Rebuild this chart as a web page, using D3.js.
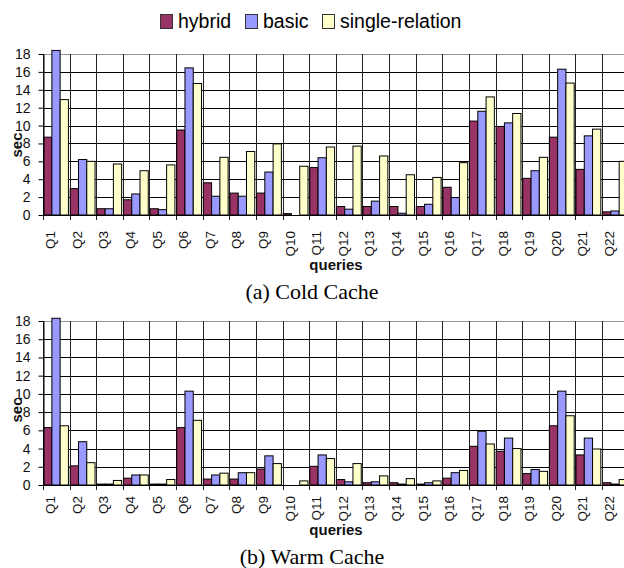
<!DOCTYPE html>
<html lang="en">
<head>
<meta charset="utf-8">
<script src="https://d3js.org/d3.v7.min.js"></script>
<style>
    body { margin: 0; background: #fff; }
    .tick-label { font-family: "Liberation Sans", Arial, sans-serif; font-size: 14px; fill: #111; }
    .q-label { font-family: "Liberation Sans", Arial, sans-serif; font-size: 13.5px; fill: #111; }
    .axis-title { font-family: "Liberation Sans", Arial, sans-serif; font-size: 15px; font-weight: bold; fill: #111; }
    .caption { font-family: "Liberation Serif", "Times New Roman", serif; font-size: 22px; fill: #000; }
    .legend text { font-family: "Liberation Sans", Arial, sans-serif; font-size: 19.5px; fill: #000; }
</style>
</head>
<body>
<div id="chart"></div>
<script>
    // categories + series
    var queries = ["Q1","Q2","Q3","Q4","Q5","Q6","Q7","Q8","Q9","Q10","Q11",
                   "Q12","Q13","Q14","Q15","Q16","Q17","Q18","Q19","Q20","Q21","Q22"];
    var series = ["hybrid", "basic", "single-relation"];
    var yTicks = [0, 2, 4, 6, 8, 10, 12, 14, 16, 18];

    // (a) cold cache, seconds
    var coldHybrid = [8.7, 2.95, 0.7, 1.7, 0.7, 9.5, 3.6, 2.45, 2.45, 0.15, 5.3,
                      0.95, 0.95, 0.95, 0.95, 3.1, 10.5, 9.9, 4.1, 8.7, 5.1, 0.35];
    var coldBasic  = [18.4, 6.2, 0.7, 2.35, 0.6, 16.45, 2.1, 2.1, 4.8, 0, 6.4,
                      0.65, 1.55, 0.2, 1.2, 1.95, 11.6, 10.3, 4.95, 16.3, 8.85, 0.45];
    var coldSingle = [12.9, 6.0, 5.7, 4.95, 5.6, 14.7, 6.45, 7.1, 7.95, 5.45, 7.6,
                      7.7, 6.6, 4.5, 4.2, 5.85, 13.2, 11.35, 6.45, 14.75, 9.6, 6.0];

    // (b) warm cache, seconds
    var warmHybrid = [6.3, 2.1, 0.1, 0.75, 0.1, 6.3, 0.65, 0.65, 1.75, 0, 2.05,
                      0.6, 0.25, 0.25, 0.1, 0.75, 4.25, 3.7, 1.25, 6.5, 3.3, 0.25];
    var warmBasic  = [18.3, 4.75, 0.1, 1.1, 0.1, 10.3, 1.1, 1.35, 3.2, 0, 3.3,
                      0.35, 0.35, 0.1, 0.25, 1.35, 5.9, 5.15, 1.7, 10.3, 5.15, 0.1];
    var warmSingle = [6.5, 2.45, 0.5, 1.1, 0.6, 7.1, 1.3, 1.35, 2.35, 0.45, 2.9,
                      2.35, 1.0, 0.7, 0.45, 1.6, 4.5, 4.0, 1.5, 7.6, 3.95, 0.6];

    var colors = ["#993366", "#9999ff", "#ffffcc"];

    var svg = d3.select("#chart").append("svg")
        .attr("width", 624)
        .attr("height", 568);

    var x = d3.scaleBand()
        .domain(queries)
        .range([43, 43 + 22 * 26.62])
        .padding(0);

    var x1 = d3.scaleBand()
        .domain(series)
        .range([0.6, x.bandwidth() - 1.2]);

    var color = d3.scaleOrdinal().domain(series).range(colors);

    function drawPanel(cfg) {
        var g = svg.append("g");
        var y = d3.scaleLinear().domain([0, 18]).range([cfg.bottom, cfg.top]);
        var xEnd = x.range()[1];

        // horizontal grid
        g.selectAll("line.hgrid")
            .data(yTicks.filter(function(d) { return d > 0; }))
            .enter().append("line")
            .attr("x1", 43).attr("x2", xEnd)
            .attr("y1", function(d) { return Math.round(y(d)) + 0.5; })
            .attr("y2", function(d) { return Math.round(y(d)) + 0.5; })
            .attr("stroke", function(d) { return d === 18 ? "#999" : "#000"; })
            .attr("stroke-width", 1);

        // vertical grid at category boundaries, with a tick below the axis
        var bounds = queries.map(function(q) { return x(q); });
        g.selectAll("line.vgrid")
            .data(bounds)
            .enter().append("line")
            .attr("x1", function(d) { return Math.round(d) + 0.5; })
            .attr("x2", function(d) { return Math.round(d) + 0.5; })
            .attr("y1", Math.round(y(18)))
            .attr("y2", Math.round(y(0)) + 5)
            .attr("stroke", "#222")
            .attr("stroke-width", 1);

        // bars
        var rows = queries.map(function(q, i) {
            return { q: q, vals: [cfg.hybrid[i], cfg.basic[i], cfg.single[i]] };
        });
        g.selectAll("g.grp")
            .data(rows)
            .enter().append("g")
            .attr("transform", function(d) { return "translate(" + x(d.q) + ",0)"; })
            .selectAll("rect")
            .data(function(d) { return series.map(function(s, k) { return { s: s, v: d.vals[k] }; }); })
            .enter().append("rect")
            .filter(function(d) { return d.v > 0; })
            .attr("x", function(d) { return x1(d.s); })
            .attr("width", x1.bandwidth())
            .attr("y", function(d) { return y(d.v); })
            .attr("height", function(d) { return y(0) - y(d.v); })
            .attr("fill", function(d) { return color(d.s); })
            .attr("stroke", "#000")
            .attr("stroke-width", 1);

        // zero line + y axis line
        g.append("line")
            .attr("x1", 43).attr("x2", xEnd)
            .attr("y1", Math.round(y(0)) + 0.5).attr("y2", Math.round(y(0)) + 0.5)
            .attr("stroke", "#000");

        var yAxis = g.append("g")
            .attr("transform", "translate(43.5,0)")
            .call(d3.axisLeft(y).tickValues(yTicks).tickSize(5).tickPadding(8).tickSizeOuter(0));
        yAxis.select(".domain").attr("stroke", "#000");
        yAxis.selectAll(".tick line").attr("stroke", "#000");
        yAxis.selectAll(".tick text")
            .attr("class", "tick-label")
            .attr("font-family", null)
            .attr("font-size", null);

        // query labels, rotated
        g.selectAll("text.q-label")
            .data(queries)
            .enter().append("text")
            .attr("class", "q-label")
            .attr("transform", function(d) {
                return "translate(" + (x(d) + x.bandwidth() / 2 - 6) + "," + cfg.labelY + ") rotate(-90)";
            })
            .attr("dy", "0.35em")
            .attr("text-anchor", "end")
            .text(function(d) { return d; });

        g.append("text")
            .attr("class", "axis-title")
            .attr("transform", "translate(" + 22 + "," + cfg.secY + ") rotate(-90)")
            .attr("text-anchor", "middle")
            .text("sec");

        g.append("text")
            .attr("class", "axis-title")
            .attr("x", 336).attr("y", cfg.queriesY)
            .attr("text-anchor", "middle")
            .text("queries");

        svg.append("text")
            .attr("class", "caption")
            .attr("x", 312).attr("y", cfg.captionY)
            .attr("text-anchor", "middle")
            .text(cfg.caption);
    }

    drawPanel({ top: 54, bottom: 215, labelY: 231, secY: 145, queriesY: 270, captionY: 299,
                hybrid: coldHybrid, basic: coldBasic, single: coldSingle, caption: "(a) Cold Cache" });
    drawPanel({ top: 321, bottom: 485, labelY: 496, secY: 410, queriesY: 535, captionY: 564,
                hybrid: warmHybrid, basic: warmBasic, single: warmSingle, caption: "(b) Warm Cache" });

    // legend
    var legendX = [160, 245, 322];
    var legend = svg.selectAll(".legend")
        .data(series)
        .enter().append("g")
        .attr("class", "legend")
        .attr("transform", function(d, i) { return "translate(" + legendX[i] + ",14)"; });

    legend.append("rect")
        .attr("x", 0.5).attr("y", 0.5)
        .attr("width", 12).attr("height", 14)
        .attr("fill", function(d) { return color(d); })
        .attr("stroke", "#333");

    legend.append("text")
        .attr("x", 18)
        .attr("y", 14)
        .text(function(d) { return d; });
</script>
</body>
</html>
